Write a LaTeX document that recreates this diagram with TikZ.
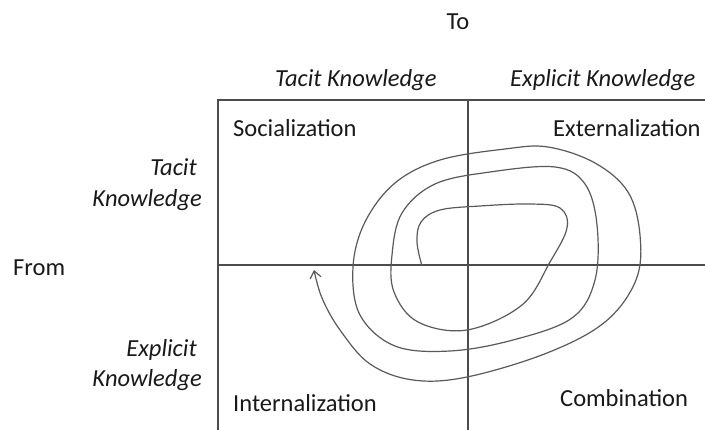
\documentclass[tikz,border=0pt]{standalone}
\usepackage{fontspec}
\setmainfont{Carlito}
\usetikzlibrary{arrows.meta}
\tikzset{
  lbl/.style={inner sep=0pt, text=black!90, font=\fontsize{24.5}{30}\selectfont},
  ilbl/.style={lbl, font=\fontsize{24.5}{30}\selectfont\itshape},
  grid/.style={draw=black!70, line width=1.1pt},
  spiral/.style={draw=black!65, line width=1.2pt},
}
\begin{document}
\begin{tikzpicture}[x=1pt,y=-1pt]
\useasboundingbox (0,0) rectangle (705,430);
% frame coordinates
\coordinate (tl) at (218,100);
\coordinate (tr) at (705,100);
\coordinate (bl) at (218,430);
\coordinate (mt) at (468,100);
\coordinate (mb) at (468,430);
\coordinate (ml) at (218,265);
\coordinate (mr) at (705,265);
\draw[grid] (tr) -- (tl) -- (bl);
\draw[grid] (mt) -- (mb);
\draw[grid] (ml) -- (mr);
% texts
\node[lbl, anchor=base] (to) at (458,30) {To};
\node[ilbl, anchor=base west] (hTacit) at (275,87) {Tacit Knowledge};
\node[ilbl, anchor=base west] (hExpl) at (510,87) {Explicit Knowledge};
\node[lbl, anchor=base west] (soc) at (233,137) {Socialization};
\node[lbl, anchor=base west] (ext) at (553,137) {Externalization};
\node[lbl, anchor=base west] (int) at (233,412) {Internalization};
\node[lbl, anchor=base west] (com) at (560,407) {Combination};
\node[lbl, anchor=base west] (from) at (13,276) {From};
\node[ilbl, anchor=base east] (vT1) at (197,176) {Tacit};
\node[ilbl, anchor=base east] (vT2) at (202,207) {Knowledge};
\node[ilbl, anchor=base east] (vE1) at (197,357) {Explicit};
\node[ilbl, anchor=base east] (vE2) at (202,387) {Knowledge};
% spiral
\draw[spiral, -{Straight Barb[length=7pt,width=11pt]}] plot[smooth, tension=0.6] coordinates {
(422,266) (417,242) (421,222) (440,210) (480,206) (530,204) (560,208) (567,228)
(550,262) (522,305) (467,330) (418,322) (394,292) (392,255) (402,213) (435,184)
(490,172) (555,167) (585,184) (597,225) (595,280) (572,318) (513,340) (450,351)
(395,346) (360,315) (353,267) (365,222) (395,183) (440,160) (505,149) (548,147)
(595,163) (628,192) (640,235) (636,280) (605,322) (547,353) (467,377) (413,380)
(370,364) (340,330) (322,298) (314,270)};
\end{tikzpicture}
\end{document}
